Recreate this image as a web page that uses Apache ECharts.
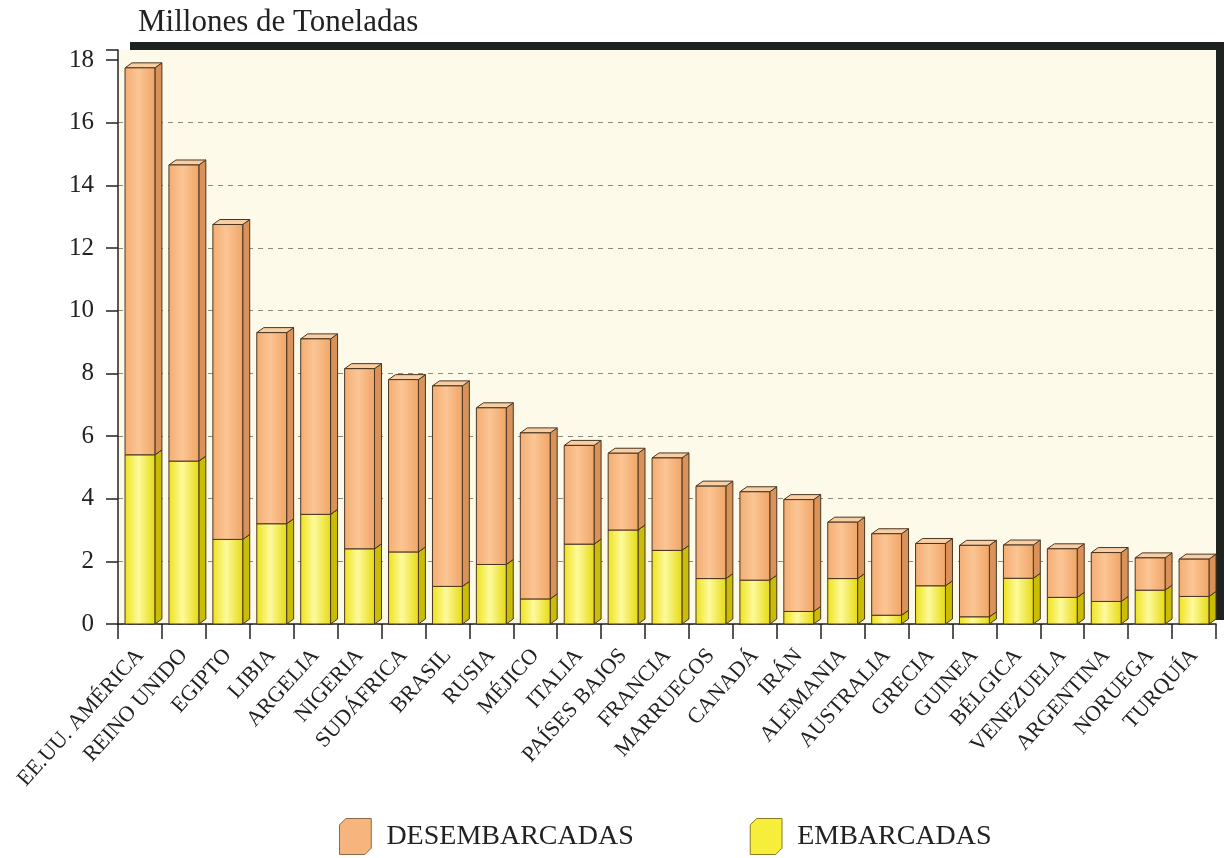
<!DOCTYPE html>
<html>
<head>
<meta charset="utf-8">
<script src="https://cdn.jsdelivr.net/npm/echarts@6/dist/echarts.min.js"></script>
<style>
  html, body { margin: 0; padding: 0; background: #fff; }
  #main { width: 1225px; height: 858px; }
</style>
</head>
<body>
<div id="main"></div>
<script>
// paises (eje x)
var paises = ["EE.UU. AMÉRICA", "REINO UNIDO", "EGIPTO", "LIBIA", "ARGELIA", "NIGERIA",
  "SUDÁFRICA", "BRASIL", "RUSIA", "MÉJICO", "ITALIA", "PAÍSES BAJOS", "FRANCIA",
  "MARRUECOS", "CANADÁ", "IRÁN", "ALEMANIA", "AUSTRALIA", "GRECIA", "GUINEA",
  "BÉLGICA", "VENEZUELA", "ARGENTINA", "NORUEGA", "TURQUÍA"];
// millones de toneladas
var embarcadas = [5.4, 5.2, 2.7, 3.2, 3.5, 2.4, 2.3, 1.2, 1.9, 0.8, 2.55, 3.0, 2.35,
  1.45, 1.4, 0.4, 1.45, 0.28, 1.22, 0.23, 1.46, 0.85, 0.72, 1.08, 0.88];
var desembarcadas = [12.35, 9.45, 10.05, 6.1, 5.6, 5.75, 5.5, 6.4, 5.0, 5.3, 3.15, 2.45, 2.95,
  2.95, 2.82, 3.57, 1.8, 2.6, 1.35, 2.28, 1.06, 1.55, 1.56, 1.03, 1.19];
var yTicks = [0, 2, 4, 6, 8, 10, 12, 14, 16, 18];

var SERIF = "'Liberation Serif', 'DejaVu Serif', serif";

// datos [indice, base, tope] para las barras apiladas
var dataEmb = embarcadas.map(function (v, i) { return [i, 0, v]; });
var dataDes = desembarcadas.map(function (v, i) { return [i, embarcadas[i], embarcadas[i] + v]; });

// barra con efecto 3D (frente, lado, tapa)
function barRenderer(front, side, top) {
  return function (params, api) {
    var i = api.value(0);
    var p0 = api.coord([i, api.value(1)]);
    var p1 = api.coord([i, api.value(2)]);
    var w = api.size([1, 0])[0] * 0.68;
    var x = p0[0] - w / 2;
    var dx = 7, dy = 5;
    var line = { stroke: '#4a3520', lineWidth: 1 };
    return {
      type: 'group',
      children: [
        {
          type: 'polygon',
          shape: { points: [[x + w, p1[1]], [x + w + dx, p1[1] - dy], [x + w + dx, p0[1] - dy], [x + w, p0[1]]] },
          style: Object.assign({ fill: side }, line)
        },
        {
          type: 'polygon',
          shape: { points: [[x, p1[1]], [x + dx, p1[1] - dy], [x + w + dx, p1[1] - dy], [x + w, p1[1]]] },
          style: Object.assign({ fill: top }, line)
        },
        {
          type: 'rect',
          shape: { x: x, y: p1[1], width: w, height: p0[1] - p1[1] },
          style: Object.assign({ fill: front }, line)
        }
      ]
    };
  };
}

var naranja = new echarts.graphic.LinearGradient(0, 0, 1, 0, [
  { offset: 0, color: '#f3ad72' },
  { offset: 0.45, color: '#fbc594' },
  { offset: 1, color: '#f0a566' }
]);
var amarillo = new echarts.graphic.LinearGradient(0, 0, 1, 0, [
  { offset: 0, color: '#eee21a' },
  { offset: 0.45, color: '#fdfa9c' },
  { offset: 1, color: '#e6da10' }
]);

var cubo = 'path://M0,6 L6,0 L30,0 L30,28 L24,34 L0,34 Z';
var gris = '#8a8a80';

var myChart = echarts.init(document.getElementById('main'));
var option = {
  backgroundColor: '#ffffff',
  animation: false,
  title: {
    text: 'Millones de Toneladas',
    left: 133,
    top: 2,
    textStyle: { fontFamily: SERIF, fontSize: 31, fontWeight: 'normal', color: '#222' }
  },
  legend: {
    left: 334,
    top: 813,
    itemWidth: 36,
    itemHeight: 36,
    itemGap: 116,
    textStyle: { fontFamily: SERIF, fontSize: 28, color: '#222', padding: [0, 0, 0, 8] },
    data: [
      { name: 'DESEMBARCADAS', icon: cubo, itemStyle: { color: '#f6b57c', borderColor: '#8a6a4a', borderWidth: 1 } },
      { name: 'EMBARCADAS', icon: cubo, itemStyle: { color: '#f6ee3a', borderColor: '#8a7a20', borderWidth: 1 } }
    ]
  },
  graphic: [
    // sombra oscura del marco (arriba y derecha)
    { type: 'rect', shape: { x: 130, y: 42, width: 1094, height: 8 }, style: { fill: '#1e2320' }, z: 0 },
    { type: 'rect', shape: { x: 1216, y: 42, width: 8, height: 578 }, style: { fill: '#1e2320' }, z: 0 }
  ],
  grid: {
    left: 118,
    right: 9,
    top: 50,
    bottom: 234,
    show: true,
    backgroundColor: '#fefaea',
    borderWidth: 0
  },
  xAxis: {
    type: 'category',
    data: paises,
    boundaryGap: true,
    axisLine: { lineStyle: { color: '#222', width: 1.5 } },
    axisTick: { show: true, alignWithLabel: false, length: 15, lineStyle: { color: '#222', width: 1.5 } },
    axisLabel: {
      interval: 0,
      rotate: 48,
      margin: 28,
      fontFamily: SERIF,
      fontSize: 22,
      color: '#222'
    }
  },
  yAxis: {
    type: 'value',
    min: 0,
    max: 18.32,
    interval: 2,
    axisLine: { show: true, lineStyle: { color: '#222', width: 1.5 } },
    axisTick: { show: true, length: 12, lineStyle: { color: '#222', width: 1.5 } },
    axisLabel: {
      fontFamily: SERIF,
      fontSize: 25,
      color: '#222',
      margin: 24,
      customValues: yTicks
    },
    splitLine: {
      show: true,
      lineStyle: {
        color: [gris, gris, gris, gris, gris, gris, gris, gris, gris, 'rgba(0,0,0,0)', 'rgba(0,0,0,0)'],
        type: [5, 5],
        width: 1
      }
    }
  },
  series: [
    {
      name: 'EMBARCADAS',
      type: 'custom',
      renderItem: barRenderer(amarillo, '#c9bd05', '#f3ec60'),
      itemStyle: { color: '#f6ee3a' },
      encode: { x: 0, y: 2 },
      data: dataEmb
    },
    {
      name: 'DESEMBARCADAS',
      type: 'custom',
      renderItem: barRenderer(naranja, '#d8925a', '#f8cfa4'),
      itemStyle: { color: '#f6b57c' },
      encode: { x: 0, y: 2 },
      data: dataDes
    }
  ]
};
myChart.setOption(option);
</script>
</body>
</html>
